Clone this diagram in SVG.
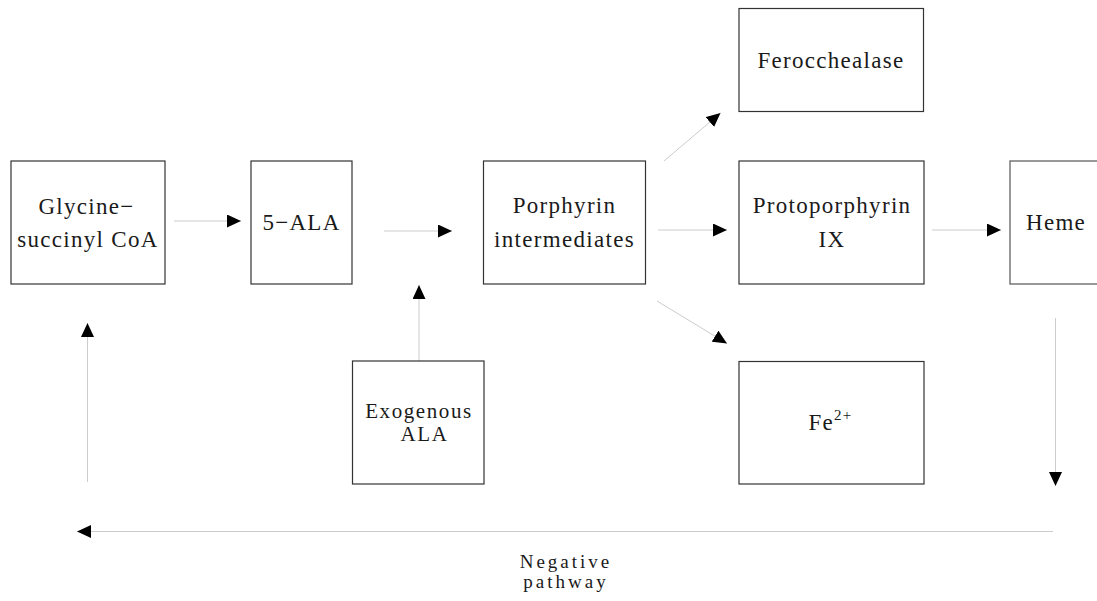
<svg xmlns="http://www.w3.org/2000/svg" width="1097" height="601" viewBox="0 0 1097 601">
<style>
.box{fill:#fff;stroke:#333;stroke-width:1.2}
.t{font-family:"Liberation Serif","DejaVu Serif",serif;font-size:23px;letter-spacing:1.3px;fill:#1a1a1a;text-anchor:middle}
.s{font-size:21px;letter-spacing:1.6px}
.n{font-size:19px;letter-spacing:3px}
.sup{font-size:15px}
.c{stroke:#ccc;stroke-width:1;fill:none;marker-end:url(#ah)}
</style>
<defs>
<marker id="ah" viewBox="0 0 14 13" refX="14" refY="6.5" markerWidth="14" markerHeight="13" markerUnits="userSpaceOnUse" orient="auto">
<path d="M0,0 L14,6.5 L0,13 z" fill="#000"/>
</marker>
</defs>
<rect width="1097" height="601" fill="#fff"/>
<g id="connectors">
<line class="c" x1="174" y1="221" x2="241" y2="221"/>
<line class="c" x1="384" y1="231" x2="452" y2="231"/>
<line class="c" x1="419" y1="361" x2="419" y2="285"/>
<line class="c" x1="664" y1="161" x2="720.5" y2="113"/>
<line class="c" x1="658" y1="230" x2="727" y2="230"/>
<line class="c" x1="657" y1="301" x2="727" y2="343.5"/>
<line class="c" x1="932" y1="230" x2="1001" y2="230"/>
<line class="c" x1="1055.5" y1="318" x2="1055.5" y2="486"/>
<line class="c" x1="1053" y1="531.5" x2="77" y2="531.5"/>
<line class="c" x1="87.5" y1="482" x2="87.5" y2="323"/>
</g>
<g id="glycine">
<rect class="box" x="11" y="161" width="154" height="123"/>
<text class="t" x="86.5" y="214">Glycine−</text>
<text class="t" x="88" y="247">succinyl CoA</text>
</g>
<g id="ala">
<rect class="box" x="251" y="161" width="101" height="123"/>
<text class="t" x="301.5" y="230">5−ALA</text>
</g>
<g id="porphyrin">
<rect class="box" x="483.5" y="161" width="162" height="123"/>
<text class="t" x="564.5" y="213">Porphyrin</text>
<text class="t" x="564.5" y="246.5">intermediates</text>
</g>
<g id="ferocchealase">
<rect class="box" x="739" y="8.5" width="184.5" height="103"/>
<text class="t" x="831" y="68">Ferocchealase</text>
</g>
<g id="protoporphyrin">
<rect class="box" x="739" y="161" width="185" height="123"/>
<text class="t" x="832" y="212.5">Protoporphyrin</text>
<text class="t" x="832" y="246.5">IX</text>
</g>
<g id="heme">
<rect class="box" x="1010" y="161" width="100" height="123" style="stroke:#555"/>
<text class="t" x="1026" y="230" style="text-anchor:start">Heme</text>
</g>
<g id="exogenous">
<rect class="box" x="352.5" y="361" width="131.5" height="123"/>
<text class="t s" x="419" y="418">Exogenous</text>
<text class="t s" x="424.5" y="440.5">ALA</text>
</g>
<g id="fe">
<rect class="box" x="739" y="361.5" width="185" height="122.5"/>
<text class="t" x="830.5" y="430">Fe<tspan class="sup" dy="-10">2+</tspan></text>
</g>
<g id="negative">
<text class="t n" x="566" y="568">Negative</text>
<text class="t n" x="566" y="588">pathway</text>
</g>
</svg>
